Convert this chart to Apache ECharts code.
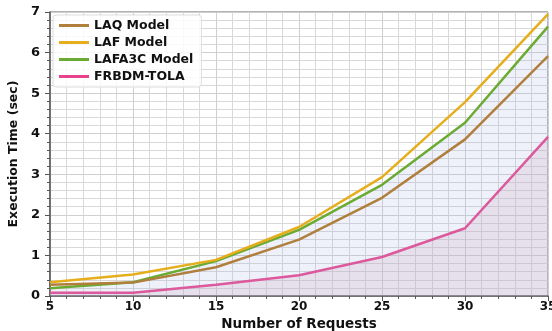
<!DOCTYPE html>
<html><head><meta charset="utf-8">
<script src="https://cdn.jsdelivr.net/npm/echarts@6/dist/echarts.min.js"></script>
<style>html,body{margin:0;padding:0;background:#fff}#c{width:552px;height:331px}</style>
</head><body><div id="c"></div>
<script>
var requests = [5, 10, 15, 20, 25, 30, 35];
var laq = [0.28, 0.33, 0.71, 1.39, 2.42, 3.86, 5.91];
var laf = [0.34, 0.53, 0.89, 1.70, 2.93, 4.78, 6.95];
var lafa3c = [0.19, 0.34, 0.86, 1.63, 2.74, 4.27, 6.64];
var frbdm = [0.08, 0.08, 0.28, 0.51, 0.96, 1.67, 3.92];
var names = ['LAQ Model', 'LAF Model', 'LAFA3C Model', 'FRBDM-TOLA'];
var colors = ['#b07f3c', '#e6ae1c', '#6bab33', '#e8428c'];

function pts(arr){ return requests.map(function(x,i){ return [x, arr[i]]; }); }
var font = 'DejaVu Sans';
var chart = echarts.init(document.getElementById('c'));
var dataSets = [laq, laf, lafa3c, frbdm];
var series = dataSets.map(function(d, i){
  var s = {name: names[i], type: 'line', data: pts(d), symbol: 'none',
    lineStyle: {color: colors[i], width: 2.5}, itemStyle: {color: colors[i]}, z: 5 + (3 - i)};
  if (i === 2) s.areaStyle = {color: 'rgba(170,185,225,0.28)', origin: 'start'};
  if (i === 3) s.areaStyle = {color: 'rgba(215,170,195,0.35)', origin: 'start'};
  return s;
});
chart.setOption({
  animation: false,
  grid: {left: 50, right: 4, top: 12, bottom: 35, show: true, borderColor: '#666', borderWidth: 1,
    containLabel: false, outerBoundsMode: 'none'},
  legend: {
    data: names, orient: 'vertical', left: 53, top: 15,
    itemWidth: 30, itemHeight: 3, itemGap: 4, icon: 'rect',
    textStyle: {fontFamily: font, fontWeight: 'bold', fontSize: 12.5, color: '#111'},
    backgroundColor: 'rgba(255,255,255,0.85)', borderColor: '#ddd', borderWidth: 1, borderRadius: 3,
    padding: [4, 8, 4, 6]
  },
  xAxis: {
    type: 'value', min: 5, max: 35, interval: 5,
    name: 'Number of Requests', nameLocation: 'middle', nameGap: 20,
    nameTextStyle: {fontFamily: font, fontWeight: 'bold', fontSize: 13.5, color: '#111'},
    axisLine: {lineStyle: {color: '#555', width: 1.5}},
    axisTick: {show: true, length: 5, lineStyle: {color: '#555'}},
    minorTick: {show: true, splitNumber: 5, length: 3, lineStyle: {color: '#555'}},
    axisLabel: {fontFamily: font, fontWeight: 'bold', fontSize: 12, color: '#111', margin: 5},
    splitLine: {show: true, lineStyle: {color: '#cfcfcf', width: 1}},
    minorSplitLine: {show: true, lineStyle: {color: '#d8d8d8', width: 1}}
  },
  yAxis: {
    type: 'value', min: 0, max: 7, interval: 1,
    name: 'Execution Time (sec)', nameLocation: 'middle', nameGap: 30,
    nameTextStyle: {fontFamily: font, fontWeight: 'bold', fontSize: 12.5, color: '#111'},
    axisLine: {show: true, lineStyle: {color: '#555', width: 1.5}},
    axisTick: {show: true, length: 5, lineStyle: {color: '#555'}},
    minorTick: {show: true, splitNumber: 5, length: 3, lineStyle: {color: '#555'}},
    axisLabel: {fontFamily: font, fontWeight: 'bold', fontSize: 13, color: '#111', margin: 10},
    splitLine: {show: true, lineStyle: {color: '#cfcfcf', width: 1}},
    minorSplitLine: {show: true, lineStyle: {color: '#d8d8d8', width: 1}}
  },
  series: series
});
</script></body></html>
